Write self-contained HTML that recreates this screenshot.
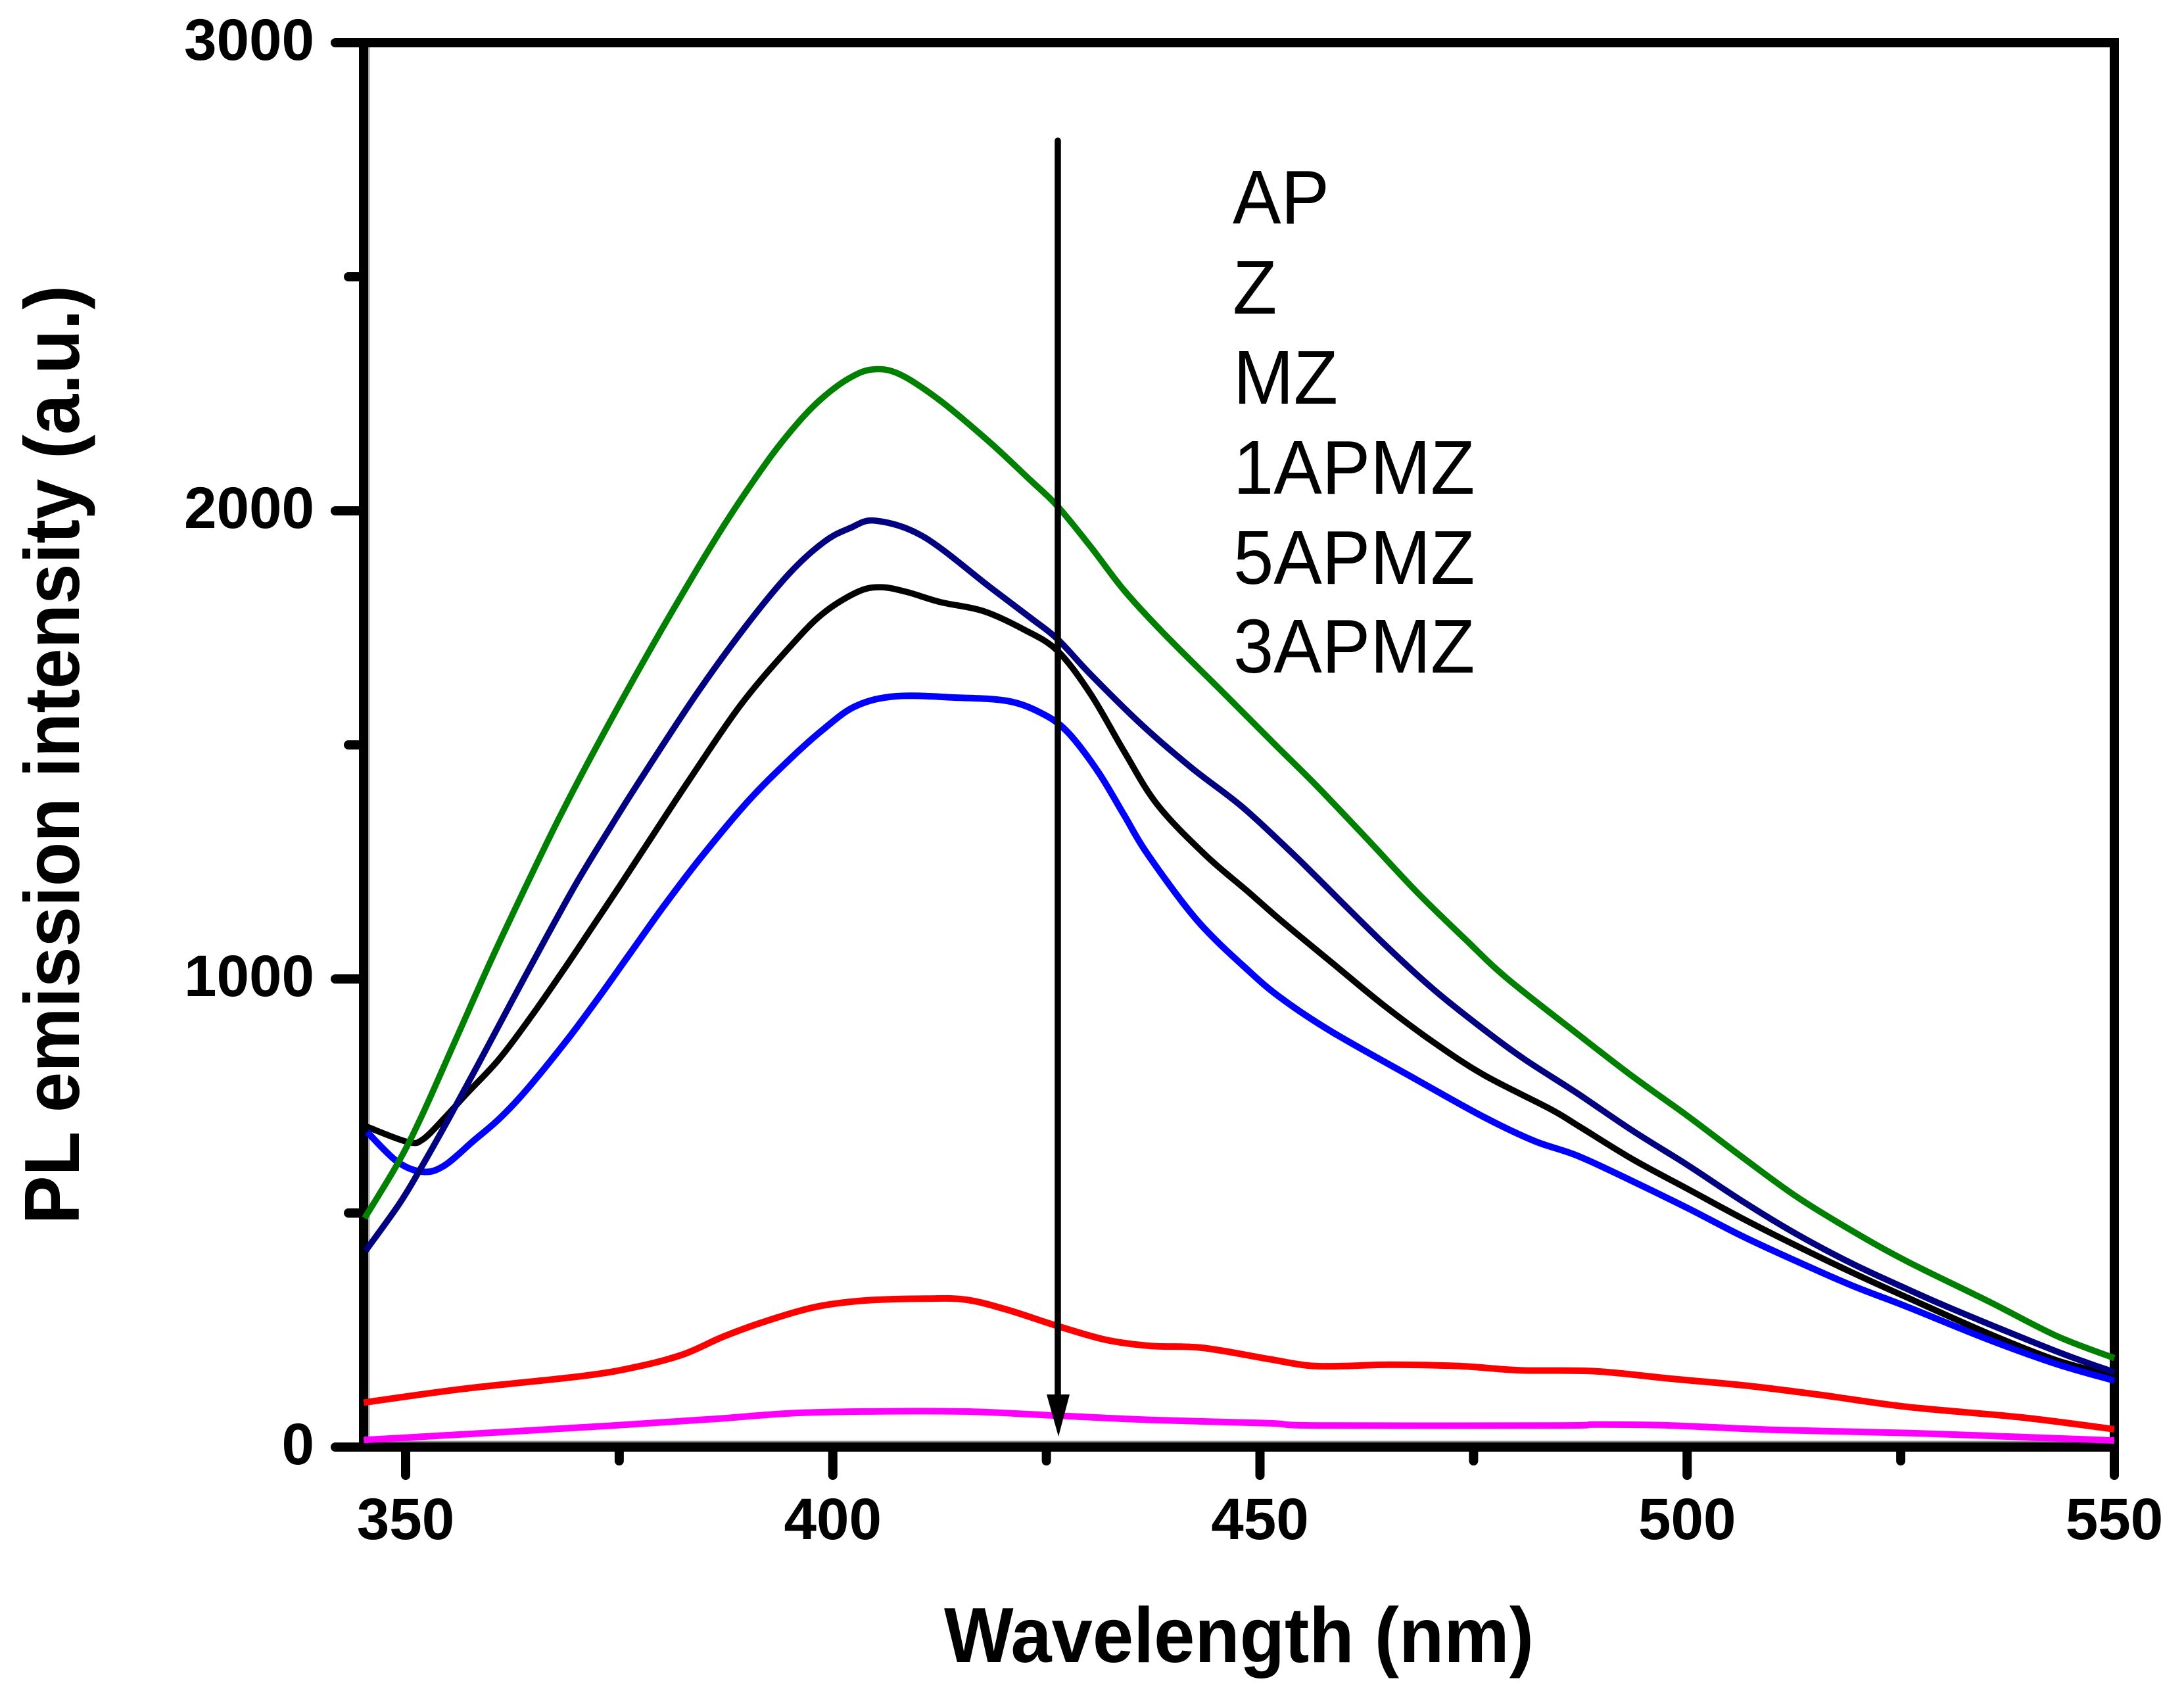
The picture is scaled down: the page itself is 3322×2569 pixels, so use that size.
<!DOCTYPE html>
<html>
<head>
<meta charset="utf-8">
<title>PL emission spectra</title>
<style>
html,body{margin:0;padding:0;background:#fff;}
svg{display:block;}
text{font-family:"Liberation Sans",Arial,sans-serif;fill:#000;}
</style>
</head>
<body>
<svg id="chart" xmlns="http://www.w3.org/2000/svg" width="3322" height="2569" viewBox="0 0 3322 2569">
  <rect x="0" y="0" width="3322" height="2569" fill="#ffffff"/>
  <g id="axes"></g>
  <g id="series"></g>
  <g>
    <line x1="1609" y1="214" x2="1609" y2="2130" stroke="#000" stroke-width="9.5" stroke-linecap="round"/>
    <polygon points="1592,2121 1627,2121 1610,2185" fill="#000"/>
  </g>
  <g font-size="116">
    <text transform="translate(1875,340) scale(.95,1)">AP</text>
    <text transform="translate(1875,477) scale(.95,1)">Z</text>
    <text transform="translate(1876,614) scale(.95,1)">MZ</text>
    <text transform="translate(1876,751) scale(.95,1)">1APMZ</text>
    <text transform="translate(1876,888) scale(.95,1)">5APMZ</text>
    <text transform="translate(1876,1023) scale(.95,1)">3APMZ</text>
  </g>
  <text x="1436" y="2528" font-size="119" font-weight="bold" textLength="897" lengthAdjust="spacingAndGlyphs">Wavelength (nm)</text>
  <text transform="translate(120,1862) rotate(-90)" font-size="119" font-weight="bold" textLength="1428" lengthAdjust="spacingAndGlyphs">PL emission intensity (a.u.)</text>
</svg>
<script>
const xMajorTicks = [350, 400, 450, 500, 550];
const xMinorTicks = [375, 425, 475, 525];
const yMajorTicks = [0, 1000, 2000, 3000];
const yMinorTicks = [500, 1500, 2500];
const xDomain = [345, 550];
const yDomain = [0, 3000];

const apNm = [345.2,349.2,352,356,360,364,368,372.3,378.2,384.1,388,392.7,396,398.7,401.8,404.6,407.8,412.6,418.4,423.1,426.3,430.2,434.1,438.8,445.9,451.8,456.5,462.5,468.4,474.3,479,487.2,493.6,500,506.4,512.8,519.3,525.7,535.2,543.3,550];
const apValues = [489,610,712,876,1040,1195,1345,1495,1690,1875,1990,2115,2190,2240,2282,2302,2292,2235,2146,2066,2010,1923,1830,1737,1608,1500,1415,1300,1185,1080,1000,882,792,708,620,535,462,397,312,237,190];

const zNm = [345.3,349.2,351.6,355,358.5,362.3,365.9,370,373.9,377.2,384.1,390,395,399,402,405,410.6,418.4,423.1,426.3,430.2,436.1,442,447.9,453.7,456.6,464.4,470.3,476.2,481,487.2,493.6,500,506.4,512.8,519.3,525.7,531.2,543.3,550];
const zValues = [419,518,590,700,818,948,1070,1205,1322,1418,1610,1758,1868,1934,1963,1979,1945,1837,1772,1726,1650,1544,1451,1368,1270,1218,1077,978,892,828,755,676,603,526,455,392,338,294,204,160];

const mzNm = [345.5,350.2,352,354.6,357.2,361,364.9,368.7,372,375.1,378.9,383.3,389.2,394.9,398.8,402.8,405.5,408.6,412.6,417.6,422.3,426.3,430.2,434.1,438,443.6,448.7,452.7,458.6,464.4,470.3,476.2,484,487.2,493.6,500,506.4,512.8,519.3,525.7,535.2,543.3,550];
const mzValues = [684,652,657,704,756,830,925,1025,1115,1200,1306,1428,1585,1708,1780,1826,1837,1827,1805,1786,1747,1701,1608,1486,1372,1265,1185,1121,1032,945,865,795,722,687,615,552,489,430,373,320,243,185,152];

const oneApmzNm = [345.5,349,352,354.5,358,361,364.1,368.7,372.5,376.4,380.2,384.5,390,395,399,402.7,407.4,414.5,420.4,424.3,427.4,431,434.1,436.9,442.7,448.7,452.7,458.6,468.4,476.2,482.1,487.2,493.6,500,506.4,512.8,519.3,525.7,535.2,543.3,550];
const oneApmzValues = [673,610,588,601,655,702,762,865,958,1058,1155,1258,1378,1470,1535,1583,1604,1601,1594,1569,1529,1444,1350,1265,1124,1017,956,885,784,705,654,622,568,511,451,397,345,300,230,177,142];

const fiveApmzNm = [345.1,356.6,370.8,377.2,382.5,387.2,392,397.9,403.7,410.8,415.5,420.3,426.4,432,437.2,443.3,451,455.7,459.8,465.1,473.3,480.4,489.3,498.1,507,515.8,525.7,539.3,550];
const fiveApmzValues = [95,124,152,172,198,236,268,299,313,317,315,294,258,229,216,212,188,174,173,176,173,164,162,146,131,111,86,63,38];

const threeApmzNm = [345.1,356.6,374.3,386.1,394.9,403.7,415.5,426.4,437.2,451,456.9,485.1,489.3,498.1,509.9,525.7,535.2,550];
const threeApmzValues = [15,27,46,60,72,76,76,67,58,51,46,46,48,46,37,30,24,14];

const SVG_NS = 'http://www.w3.org/2000/svg';
const xScale = n => 617 + (n - 350) * 12.995;
const yScale = v => 2201 - v * 0.712;

const axesGroup = document.getElementById('axes');
const seriesGroup = document.getElementById('series');

function drawLine(x1, y1, x2, y2, width, color, cap) {
  const l = document.createElementNS(SVG_NS, 'line');
  l.setAttribute('x1', x1);
  l.setAttribute('y1', y1);
  l.setAttribute('x2', x2);
  l.setAttribute('y2', y2);
  l.setAttribute('stroke', color);
  l.setAttribute('stroke-width', width);
  l.setAttribute('stroke-linecap', cap || 'butt');
  axesGroup.appendChild(l);
  return l;
}

function drawLabel(x, y, str, anchor) {
  const t = document.createElementNS(SVG_NS, 'text');
  t.setAttribute('x', x);
  t.setAttribute('y', y);
  t.setAttribute('font-size', '89');
  t.setAttribute('font-weight', 'bold');
  t.setAttribute('text-anchor', anchor);
  t.textContent = str;
  axesGroup.appendChild(t);
  return t;
}

const frameLeft = xScale(xDomain[0]) + 1;
const frameRight = xScale(xDomain[1]);
const frameTop = yScale(yDomain[1]);
const frameBottom = yScale(yDomain[0]);

const edgeInner = drawLine(frameLeft, frameBottom - 8, frameRight, frameBottom - 8, 3, '#8a8a8a');



const edgeLeft = drawLine(frameLeft + 8, frameTop, frameLeft + 8, frameBottom, 3, '#a8a8a8');



const axisBottom = drawLine(frameLeft - 7, frameBottom, frameRight + 7, frameBottom, 14, '#000');



const axisTop = drawLine(frameLeft - 7, frameTop, frameRight + 7, frameTop, 14, '#000');



const axisLeft = drawLine(frameLeft, frameTop - 7, frameLeft, frameBottom + 7, 14, '#000');



const axisRight = drawLine(frameRight, frameTop - 7, frameRight, frameBottom + 7, 14, '#000');



xMajorTicks.forEach(n => {
  const tick = drawLine(xScale(n), frameBottom, xScale(n), 2244, 14, '#000', 'round');
  
  
  const label = drawLabel(xScale(n), 2341, String(n), 'middle');
  
  
});

xMinorTicks.forEach(n => {
  const tick = drawLine(xScale(n), frameBottom, xScale(n), 2222, 14, '#000', 'round');
  
  
});

yMajorTicks.forEach(v => {
  const tick = drawLine(frameLeft, yScale(v), 510, yScale(v), 14, '#000', 'round');
  
  
  const label = drawLabel(478, yScale(v) + 26, String(v), 'end');
  
  
});

yMinorTicks.forEach(v => {
  const tick = drawLine(frameLeft, yScale(v), 530, yScale(v), 14, '#000', 'round');
  
  
});

function smoothPath(nm, values) {
  const pts = nm.map((n, i) => [xScale(n), yScale(values[i])]);
  let d = 'M' + pts[0][0].toFixed(1) + ' ' + pts[0][1].toFixed(1);
  for (let i = 0; i < pts.length - 1; i++) {
    const p0 = pts[Math.max(0, i - 1)];
    const p1 = pts[i];
    const p2 = pts[i + 1];
    const p3 = pts[Math.min(pts.length - 1, i + 2)];
    const c1x = p1[0] + (p2[0] - p0[0]) / 6;
    const c1y = p1[1] + (p2[1] - p0[1]) / 6;
    const c2x = p2[0] - (p3[0] - p1[0]) / 6;
    const c2y = p2[1] - (p3[1] - p1[1]) / 6;
    d += 'C' + c1x.toFixed(1) + ' ' + c1y.toFixed(1) + ' ' + c2x.toFixed(1) + ' ' + c2y.toFixed(1) + ' ' + p2[0].toFixed(1) + ' ' + p2[1].toFixed(1);
  }
  return d;
}

function drawSeries(nm, values, color, width) {
  const p = document.createElementNS(SVG_NS, 'path');
  p.setAttribute('d', smoothPath(nm, values));
  p.setAttribute('fill', 'none');
  p.setAttribute('stroke', color);
  p.setAttribute('stroke-width', width);
  p.setAttribute('stroke-linejoin', 'round');
  seriesGroup.appendChild(p);
  return p;
}

const lineMz = drawSeries(mzNm, mzValues, '#000000', 9.5);



const line5 = drawSeries(fiveApmzNm, fiveApmzValues, '#ff0000', 10);



const line3 = drawSeries(threeApmzNm, threeApmzValues, '#ff00ff', 10);



const line1 = drawSeries(oneApmzNm, oneApmzValues, '#0000ff', 10);



const lineAp = drawSeries(apNm, apValues, '#008000', 9.5);



const lineZ = drawSeries(zNm, zValues, '#000080', 9.5);


</script>
</body>
</html>
